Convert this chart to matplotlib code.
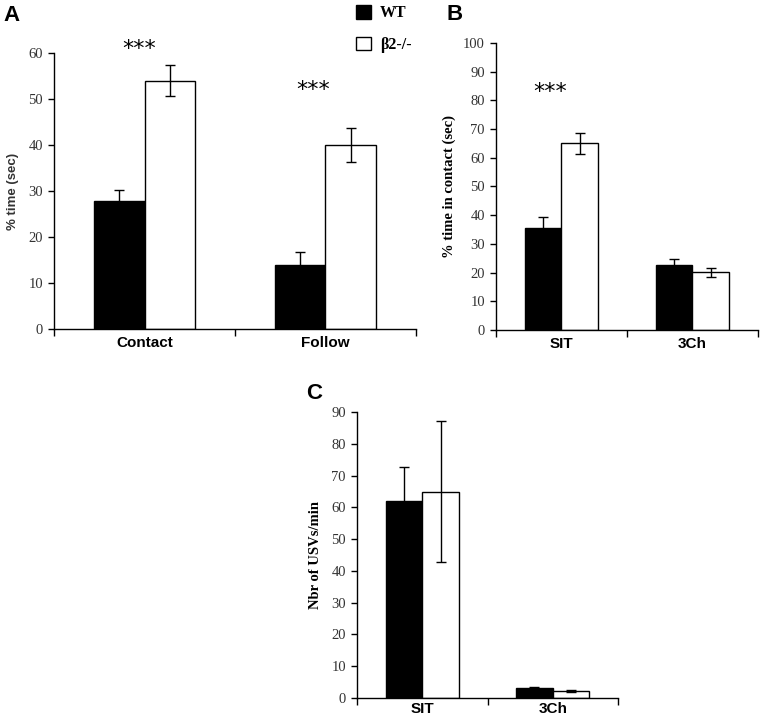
import numpy as np
import matplotlib
matplotlib.use("Agg")
import matplotlib.pyplot as plt
from matplotlib.patches import Patch

# Panel A: % time (sec)
a_categories = ["Contact", "Follow"]
a_wt = [27.8, 14.0]
a_wt_err = [2.5, 2.7]
a_ko = [54.0, 40.0]
a_ko_err = [3.4, 3.6]

# Panel B: % time in contact (sec)
b_categories = ["SIT", "3Ch"]
b_wt = [35.4, 22.8]
b_wt_err = [4.0, 1.8]
b_ko = [65.0, 20.1]
b_ko_err = [3.7, 1.5]

# Panel C: Nbr of USVs/min
c_categories = ["SIT", "3Ch"]
c_wt = [62.0, 3.0]
c_wt_err = [10.8, 0.6]
c_ko = [64.9, 2.3]
c_ko_err = [22.2, 0.3]

W, H = 763, 720
fig = plt.figure(figsize=(W / 100, H / 100), dpi=100)

SERIF = "Liberation Serif"
SANS = "Liberation Sans"


def px_axes(left, right, top, bottom):
    return fig.add_axes([left / W, 1 - bottom / H, (right - left) / W, (bottom - top) / H])


def draw_panel(ax, cats, wt, wt_err, ko, ko_err, ymax, ystep, ylabel, ylabel_kw):
    n = len(cats)
    centers = np.arange(n) + 0.5
    w = 0.28
    # error bars drawn first in black so the part inside the black bar disappears
    ax.errorbar(centers - w / 2, wt, yerr=wt_err, fmt="none", ecolor="black",
                elinewidth=1, capsize=3.6, capthick=1, zorder=3)
    ax.errorbar(centers + w / 2, ko, yerr=ko_err, fmt="none", ecolor="black",
                elinewidth=1, capsize=3.6, capthick=1, zorder=3)
    ax.bar(centers - w / 2, wt, width=w, color="black", edgecolor="black", linewidth=1, zorder=2)
    ax.bar(centers + w / 2, ko, width=w, color="white", edgecolor="black", linewidth=1, zorder=2)
    ax.set_xlim(0, n)
    ax.set_ylim(0, ymax)
    yt = np.arange(0, ymax + 0.1, ystep)
    ax.set_yticks(yt)
    ax.set_yticklabels([f"{v:g}" for v in yt], fontfamily=SERIF, fontsize=10.5, color="#333333")
    ax.set_xticks(np.arange(n + 1))
    ax.set_xticklabels([])
    ax.set_xticks(centers, minor=True)
    ax.set_xticklabels(cats, minor=True, fontfamily=SANS, fontweight="bold", fontsize=11)
    ax.tick_params(axis="x", which="major", direction="out", length=5, width=1)
    ax.tick_params(axis="x", which="minor", length=0, pad=5)
    ax.tick_params(axis="y", direction="out", length=4, width=1, pad=4)
    for s in ["top", "right"]:
        ax.spines[s].set_visible(False)
    for s in ["left", "bottom"]:
        ax.spines[s].set_linewidth(1)
    ax.set_ylabel(ylabel, **ylabel_kw)


# Panel A
ax_a = px_axes(54, 416, 53, 329)
draw_panel(ax_a, a_categories, a_wt, a_wt_err, a_ko, a_ko_err, 60, 10,
           "% time (sec)", dict(fontfamily=SANS, fontweight="bold", fontsize=9.5, color="#333333", labelpad=7))
ax_a.text(0.47, 60.8, "***", ha="center", va="center", fontsize=16, fontfamily="DejaVu Sans", clip_on=False)
ax_a.text(1.43, 51.9, "***", ha="center", va="center", fontsize=16, fontfamily="DejaVu Sans", clip_on=False)

# Panel B
ax_b = px_axes(496, 758, 43, 330)
draw_panel(ax_b, b_categories, b_wt, b_wt_err, b_ko, b_ko_err, 100, 10,
           "% time in contact (sec)", dict(fontfamily=SERIF, fontweight="bold", fontsize=10.5, labelpad=5))
ax_b.text(0.41, 82.8, "***", ha="center", va="center", fontsize=16, fontfamily="DejaVu Sans", clip_on=False)

# Panel C
ax_c = px_axes(357, 618, 412, 698)
draw_panel(ax_c, c_categories, c_wt, c_wt_err, c_ko, c_ko_err, 90, 10,
           "Nbr of USVs/min", dict(fontfamily=SERIF, fontweight="bold", fontsize=10.5, labelpad=7))
ax_c.tick_params(axis="x", which="minor", pad=3)

# Panel letters
for letter, x, y in [("A", 3, 5), ("B", 446, 4), ("C", 306, 383)]:
    fig.text(x / W, 1 - y / H, letter, ha="left", va="top", fontfamily=SANS,
             fontweight="bold", fontsize=16)

# Legend
handles = [Patch(facecolor="black", edgecolor="black", linewidth=1),
           Patch(facecolor="white", edgecolor="black", linewidth=1)]
fig.legend(handles, ["WT", "β2-/-"], loc="upper left",
           bbox_to_anchor=(356 / W, 1 - 5 / H), frameon=False,
           prop=dict(family=SERIF, weight="bold", size=11.5),
           handlelength=0.95, handleheight=0.95, handletextpad=0.55,
           labelspacing=0.95, borderpad=0, borderaxespad=0)

fig.savefig("out.png", dpi=100)
